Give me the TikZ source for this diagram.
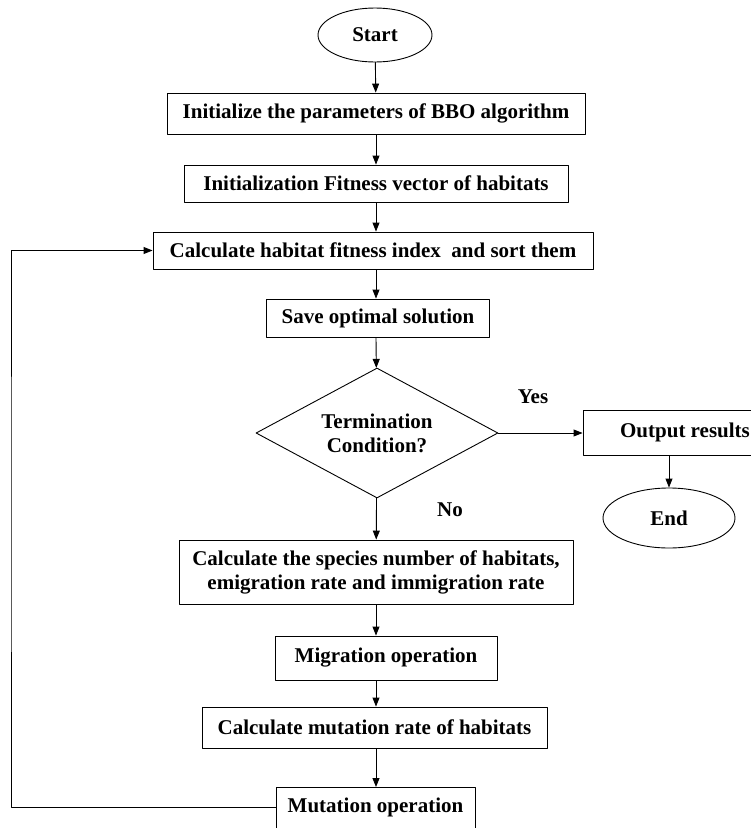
\documentclass[tikz,border=0pt]{standalone}
\usepackage{fontspec}
\setmainfont{Liberation Serif}
\usetikzlibrary{shapes.geometric,arrows.meta}
\tikzset{
  proc/.style={draw, line width=0.9pt, inner sep=0pt, align=center,
    font=\bfseries\fontsize{21}{24}\selectfont},
  term/.style={proc, ellipse},
  flow/.style={line width=0.9pt, -{Triangle[length=9pt,width=7pt]}}
}
\begin{document}
\begin{tikzpicture}[x=1pt, y=-1pt, line cap=round, line join=round]
  \useasboundingbox (0,0) rectangle (751,828);
  \clip (0,0) rectangle (751,828);
  \node[term, minimum width=114, minimum height=54] (start) at (375,35) {Start};
  \node[proc, minimum width=418, minimum height=41] (init) at (376,113.5) {Initialize the parameters of BBO algorithm};
  \node[proc, minimum width=384, minimum height=37] (fit) at (376,183.5) {Initialization Fitness vector of habitats};
  \node[proc, minimum width=440, minimum height=37] (hsi) at (373,250.5) {Calculate habitat fitness index\ \ and sort them};
  \node[proc, minimum width=223, minimum height=38] (save) at (378,318) {Save optimal solution};
  \node[proc, diamond, aspect=1.86, minimum width=242, minimum height=130] (cond) at (377,433) {Termination\\Condition?};
  \node[proc, minimum width=204, minimum height=45] (out) at (685,432.5) {Output results};
  \node[term, minimum width=132, minimum height=60] (end) at (669,518) {End};
  \node[proc, minimum width=394, minimum height=64] (spec) at (376,572) {Calculate the species number of habitats,\\emigration rate and immigration rate};
  \node[proc, minimum width=222, minimum height=44] (mig) at (386,658) {Migration operation};
  \node[proc, minimum width=345, minimum height=41] (mrate) at (374.5,727.5) {Calculate mutation rate of habitats};
  \node[proc, minimum width=199, text height=25pt, text depth=30pt, anchor=north] (mut) at (375.5,787) {Mutation operation};
  \node[font=\bfseries\fontsize{21}{24}\selectfont] (yes) at (533,397) {Yes};
  \node[font=\bfseries\fontsize{21}{24}\selectfont] (no) at (450,510) {No};
  \coordinate (back) at (11,500);

  \draw[flow] (start) -- (init);
  \draw[flow] (init) -- (fit);
  \draw[flow] (fit) -- (fit |- hsi.north);
  \draw[flow] (fit |- hsi.south) -- (fit |- save.north);
  \draw[flow] (fit |- save.south) -- (cond);
  \draw[flow] (cond) -- (cond -| out.west);
  \draw[flow] (end |- out.south) -- (end);
  \draw[flow] (cond) -- (spec);
  \draw[flow] (spec) -- (spec |- mig.north);
  \draw[flow] (spec |- mig.south) -- (spec |- mrate.north);
  \draw[flow] (spec |- mrate.south) -- (spec |- mut.north);
  \draw[flow] ([yshift=7.5pt]mut.west) -| (back) |- (hsi.west);
\end{tikzpicture}
\end{document}
